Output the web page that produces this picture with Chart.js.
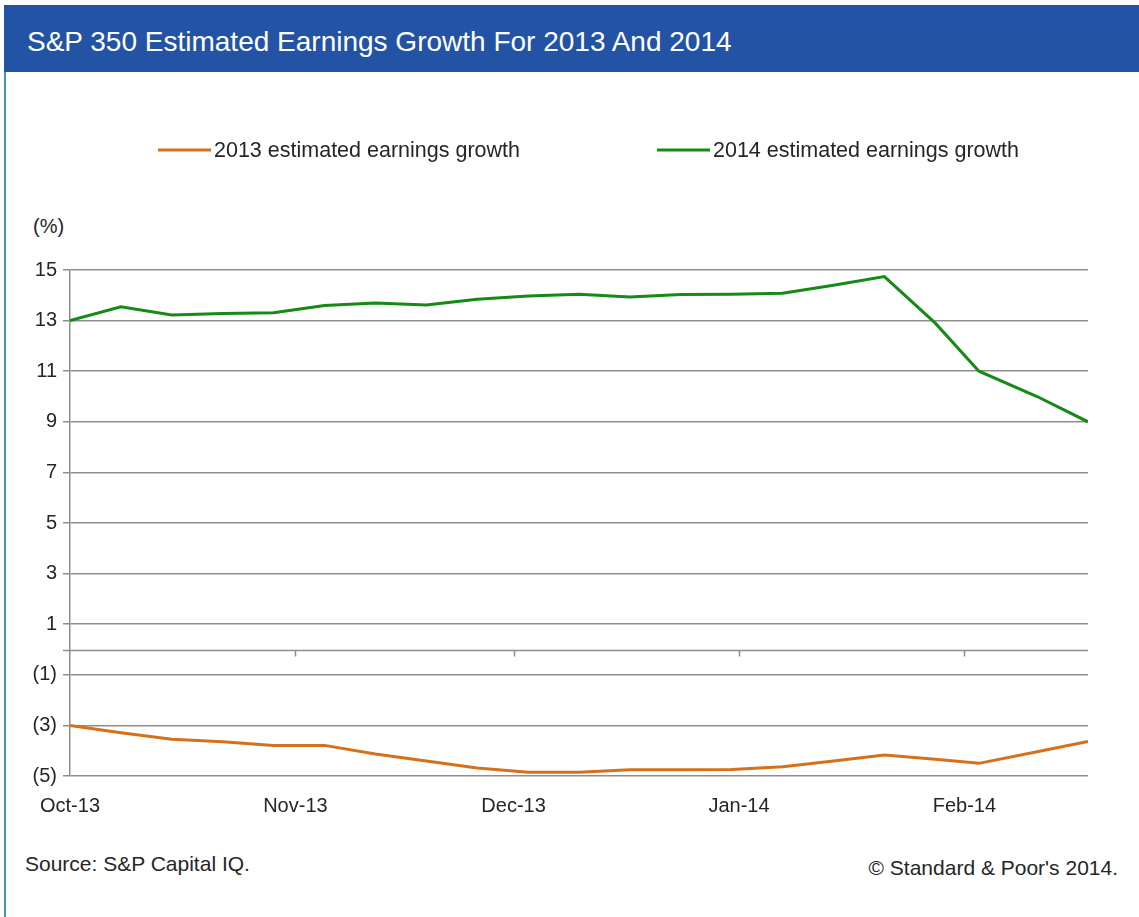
<!DOCTYPE html>
<html><head><meta charset="utf-8">
<script src="https://cdn.jsdelivr.net/npm/chart.js@4.4.1/dist/chart.umd.min.js"></script>
<style>
html,body{margin:0;padding:0;background:#fff;}
body{width:1139px;height:917px;position:relative;overflow:hidden;font-family:"Liberation Sans",Arial,sans-serif;color:#262626;}
#header{position:absolute;left:4px;top:5px;width:1135px;height:67px;background:#2353a5;}
#title{position:absolute;left:23px;top:23px;line-height:28px;font-size:28px;color:#fff;white-space:nowrap;}
#border{position:absolute;left:4px;top:72px;width:2px;height:845px;background:#3a9c9c;}
#wrap{position:absolute;left:0;top:0;width:1139px;height:917px;}
.note{position:absolute;font-size:21px;line-height:21px;white-space:nowrap;}
</style></head>
<body>
<div id="header"><div id="title">S&amp;P 350 Estimated Earnings Growth For 2013 And 2014</div></div>
<div id="border"></div>
<div class="note" style="left:33px;top:216px;font-size:20px;line-height:20px;">(%)</div>
<div class="note" style="left:25px;top:853px;">Source: S&amp;P Capital IQ.</div>
<div class="note" style="right:21px;top:857px;">© Standard &amp; Poor's 2014.</div>
<div id="wrap"><canvas id="c" width="1139" height="917"></canvas></div>
<script>
// ---- data ----
const axisStart = '2013-10-01';
const seriesDates = ['2013-10-01','2013-10-08','2013-10-15','2013-10-22','2013-10-29','2013-11-05','2013-11-12','2013-11-19','2013-11-26','2013-12-03','2013-12-10','2013-12-17','2013-12-24','2013-12-31','2014-01-07','2014-01-14','2014-01-21','2014-01-28','2014-02-03','2014-02-11','2014-02-18'];
const growth2013 = [-3.0,-3.29,-3.55,-3.65,-3.79,-3.79,-4.13,-4.41,-4.68,-4.85,-4.85,-4.75,-4.75,-4.74,-4.63,-4.41,-4.17,-4.34,-4.5,-4.04,-3.64];
const growth2014 = [13.0,13.55,13.22,13.28,13.31,13.6,13.7,13.62,13.84,13.97,14.04,13.93,14.03,14.04,14.08,14.4,14.74,12.9,11.0,10.0,9.0];
const seriesLabels = ['2013 estimated earnings growth','2014 estimated earnings growth'];
const monthStarts = ['2013-10-01','2013-11-01','2013-12-01','2014-01-01','2014-02-01'];
const monthLabels = ['Oct-13','Nov-13','Dec-13','Jan-14','Feb-14'];
const yTickValues = [-5,-3,-1,1,3,5,7,9,11,13,15];

const dayOf = d => (Date.parse(d) - Date.parse(axisStart)) / 86400000;
const xDays = seriesDates.map(dayOf);
const monthDays = monthStarts.map(dayOf);
const pts = arr => arr.map((v,i) => ({x: xDays[i], y: v}));

const gridColor = '#8e8e8e';
const textColor = '#262626';
const FONT = '"Liberation Sans", Arial, sans-serif';

const extras = {
  id: 'extras',
  beforeDatasetsDraw(chart) {
    const ctx = chart.ctx, x = chart.scales.x, y = chart.scales.y;
    const y0 = Math.round(y.getPixelForValue(0)) + 0.5;
    ctx.save();
    ctx.strokeStyle = gridColor; ctx.lineWidth = 1.5;
    ctx.beginPath();
    ctx.moveTo(chart.chartArea.left - 7, y0); ctx.lineTo(chart.chartArea.right, y0);
    monthDays.slice(1).forEach(d => {
      const px = Math.round(x.getPixelForValue(d)) + 0.5;
      ctx.moveTo(px, y0); ctx.lineTo(px, y0 + 6);
    });
    ctx.stroke();
    ctx.restore();
  },
  afterDraw(chart) {
    const ctx = chart.ctx;
    const lx = [158, 657], ly = 150;
    ctx.save();
    ctx.font = '21.5px ' + FONT;
    ctx.textBaseline = 'middle';
    ctx.fillStyle = textColor;
    chart.data.datasets.forEach((ds, i) => {
      ctx.strokeStyle = ds.borderColor; ctx.lineWidth = 3;
      ctx.beginPath(); ctx.moveTo(lx[i], ly); ctx.lineTo(lx[i] + 53, ly); ctx.stroke();
      ctx.fillText(ds.label, lx[i] + 56, ly + 1);
    });
    ctx.restore();
  }
};

new Chart(document.getElementById('c'), {
  type: 'line',
  data: {
    datasets: [
      {label: seriesLabels[0], data: pts(growth2013), borderColor: '#d6701a', borderWidth: 3, pointRadius: 0, tension: 0},
      {label: seriesLabels[1], data: pts(growth2014), borderColor: '#158a15', borderWidth: 3, pointRadius: 0, tension: 0}
    ]
  },
  options: {
    responsive: false, animation: false,
    layout: {padding: {left: 0, right: 51, top: 270, bottom: 0}},
    plugins: {legend: {display: false}, tooltip: {enabled: false}},
    scales: {
      x: {
        type: 'linear', min: 0, max: xDays[xDays.length - 1],
        afterBuildTicks: s => { s.ticks = monthDays.map(v => ({value: v})); },
        afterFit: s => { s.height = 141; },
        grid: {display: false, drawTicks: false},
        border: {display: false},
        ticks: {autoSkip: false, maxRotation: 0, padding: 18, color: textColor, font: {family: FONT, size: 20},
          callback: (v, i) => monthLabels[i]}
      },
      y: {
        min: -5, max: 15,
        afterBuildTicks: s => { s.ticks = yTickValues.map(v => ({value: v})); },
        afterFit: s => { s.width = 70; },
        grid: {color: gridColor, lineWidth: 1.5, tickLength: 7, drawTicks: true},
        border: {display: true, color: gridColor, width: 1.5},
        ticks: {padding: 6, color: textColor, font: {family: FONT, size: 20},
          callback: v => v < 0 ? '(' + Math.abs(v) + ')' : String(v)}
      }
    }
  },
  plugins: [extras]
});
</script>
</body></html>
